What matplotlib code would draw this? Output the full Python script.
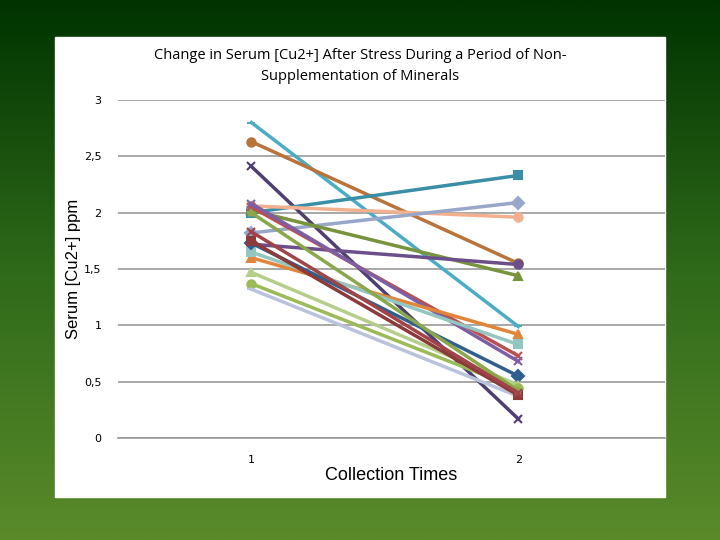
import numpy as np
import matplotlib.pyplot as plt
from matplotlib.patches import Rectangle
from matplotlib.colors import LinearSegmentedColormap

times = [1, 2]
start = [2.80, 2.63, 2.41, 2.00, 2.06, 1.82, 2.02, 1.72, 2.05, 2.08, 1.60, 1.65, 1.73, 1.47, 1.37, 1.32, 1.75, 2.00, 1.83]
end = [0.99, 1.55, 0.17, 2.33, 1.96, 2.09, 1.44, 1.54, 0.73, 0.68, 0.92, 0.83, 0.55, 0.47, 0.44, 0.37, 0.38, 0.42, 0.40]
colors = ['#4bacc6', '#b8743a', '#4f3f6f', '#3a8fa6', '#f2b08e', '#97a6c9', '#77933c', '#6a4f8a',
          '#b9504d', '#7e5fa3', '#e0853a', '#93c6c0', '#2f5f8e', '#b5cf8a', '#9bbb59', '#b9c3dc',
          '#8c3a3a', '#8aa84a', '#a0444a']
markers = ['_', 'o', 'x', 's', 'o', 'D', '^', 'o', 'x', 'x', '^', 's', 'D', '^', 'o', '_', 's', '*', 'x']

fig = plt.figure(figsize=(7.2, 5.4), dpi=100)
bg = fig.add_axes([0, 0, 1, 1], zorder=-2)
grad = np.linspace(0, 1, 256).reshape(-1, 1)
cmap = LinearSegmentedColormap.from_list('g', ['#003300', '#2f6a1a', '#5a8a2a'])
bg.imshow(grad, aspect='auto', cmap=cmap, extent=[0, 1, 0, 1], origin='upper')
bg.add_patch(Rectangle((55 / 720, 1 - 497 / 540), 610 / 720, 460 / 540, color='white', transform=bg.transAxes))
bg.axis('off')

ax = fig.add_axes([118 / 720, 1 - 438 / 540, 547 / 720, 338 / 540])
ax.set_facecolor('white')
for s, e, c, m in zip(start, end, colors, markers):
    ax.plot(times, [s, e], color=c, lw=2.5, marker=m, ms=6, mew=1.5)
ax.set_xlim(0.5, 2.55)
ax.set_ylim(0, 3)
ax.set_yticks(np.arange(0, 3.01, 0.5))
ax.set_yticklabels(['0', '0,5', '1', '1,5', '2', '2,5', '3'], fontsize=8)
ax.set_xticks([1, 2])
ax.set_xticklabels(['1', '2'], fontsize=8)
ax.tick_params(length=0, pad=12)
ax.grid(axis='y', color='#999999', lw=1.2)
ax.set_axisbelow(True)
for sp in ['top', 'right', 'left']:
    ax.spines[sp].set_visible(False)
ax.spines['bottom'].set_color('#999999')
ax.spines['bottom'].set_linewidth(1.2)
ax.set_xlabel('Collection Times', fontsize=13, labelpad=2, family='Liberation Sans')
ax.set_ylabel('Serum [Cu2+] ppm', fontsize=12, labelpad=2, family='Liberation Sans')
fig.text(360 / 720, 1 - 66 / 540, 'Change in Serum [Cu2+] After Stress During a Period of Non-\nSupplementation of Minerals',
         ha='center', va='center', fontsize=10.5, family='Open Sans', linespacing=1.5)
fig.savefig('out.png', dpi=100)
